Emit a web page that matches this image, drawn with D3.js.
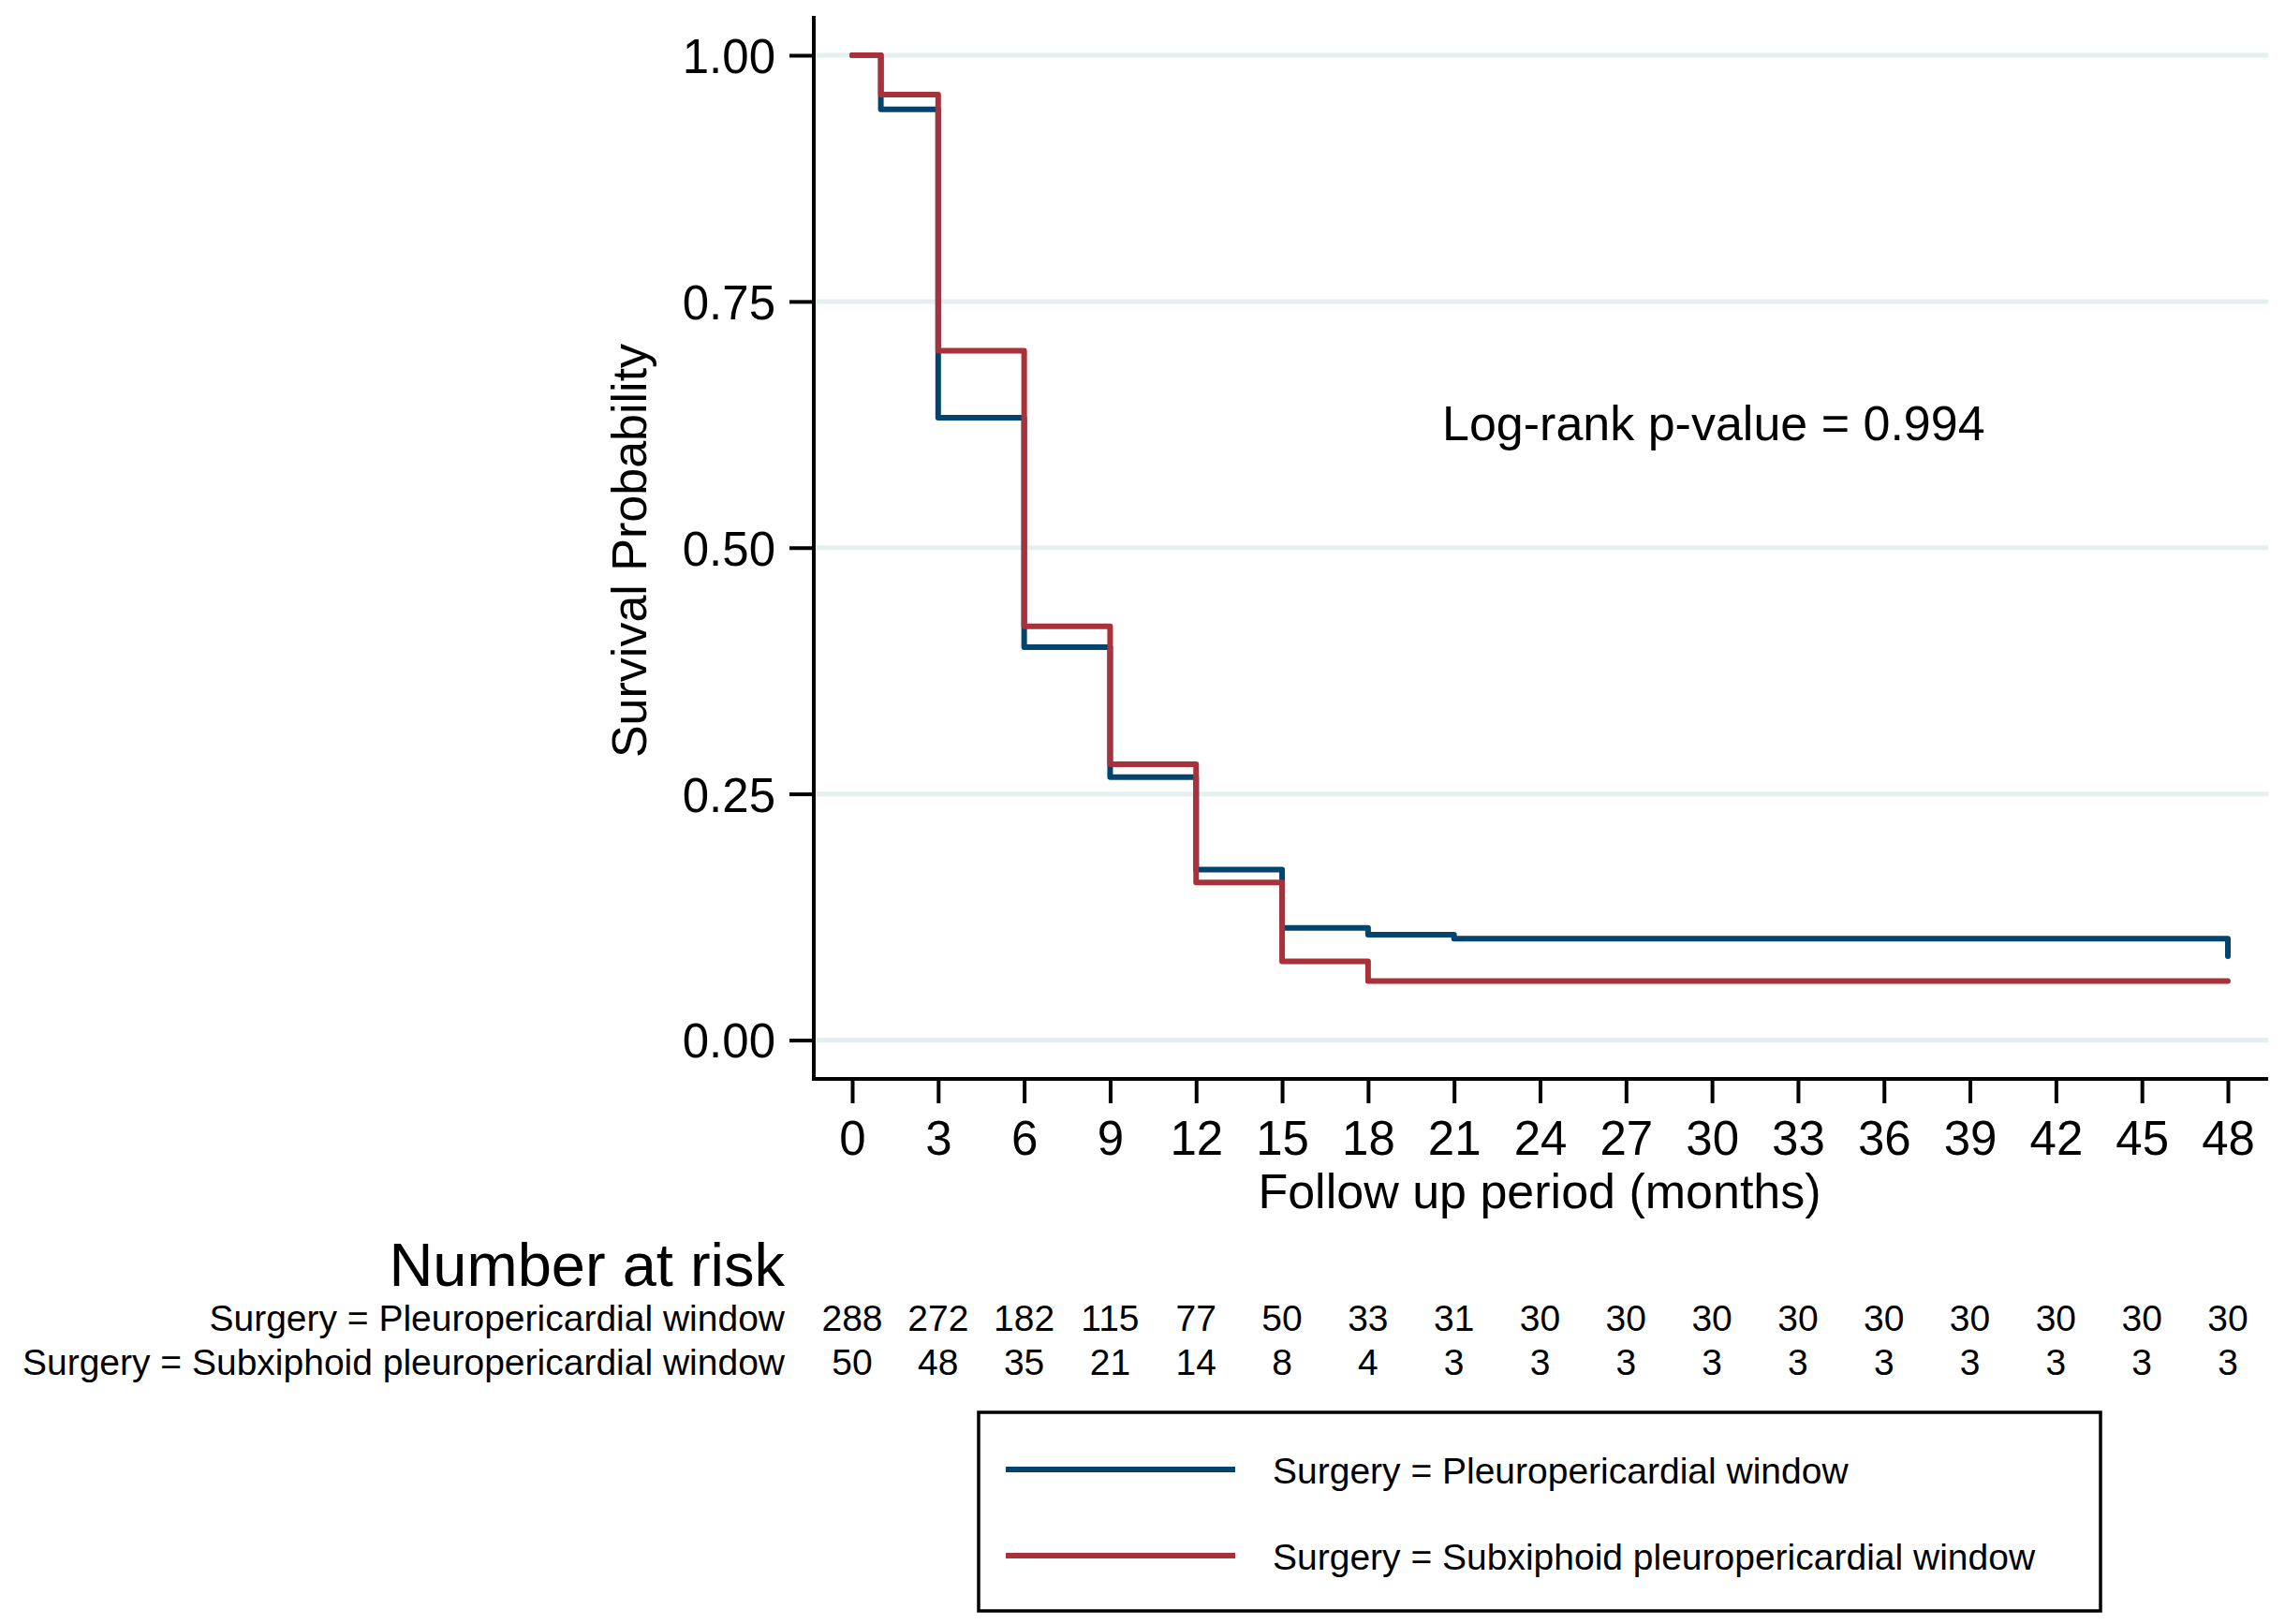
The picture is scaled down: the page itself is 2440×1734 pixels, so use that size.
<!DOCTYPE html>
<html>
<head>
<meta charset="utf-8">
<script src="https://cdn.jsdelivr.net/npm/d3@7"></script>
<style>
  body { margin: 0; background: #fff; }
  text { font-family: "Liberation Sans", Arial, Helvetica, sans-serif; fill: #000; }
</style>
</head>
<body>
<div id="chart"></div>
<script>
// Tick positions (months) and y ticks
const monthTicks = [0, 3, 6, 9, 12, 15, 18, 21, 24, 27, 30, 33, 36, 39, 42, 45, 48];
const survTicks = [0, 0.25, 0.5, 0.75, 1];

// Kaplan-Meier steps
const pleuroTimes = [0, 1, 3, 6, 9, 12, 15, 18, 21, 48, 48];
const pleuroSurv = [1, 0.945, 0.632, 0.399, 0.267, 0.173, 0.114, 0.107, 0.103, 0.103, 0.085];
const subxTimes = [0, 1, 3, 6, 9, 12, 15, 18, 48];
const subxSurv = [1, 0.96, 0.70, 0.42, 0.28, 0.16, 0.08, 0.06, 0.06];

// Number at risk
const pleuroRisk = [288, 272, 182, 115, 77, 50, 33, 31, 30, 30, 30, 30, 30, 30, 30, 30, 30];
const subxRisk = [50, 48, 35, 21, 14, 8, 4, 3, 3, 3, 3, 3, 3, 3, 3, 3, 3];

const seriesNames = ["Surgery = Pleuropericardial window", "Surgery = Subxiphoid pleuropericardial window"];
const seriesColors = ["#03446e", "#a8313a"];

const W = 2440, H = 1734;
const axisX = 869, axisY = 1152, axisTop = 17, plotRight = 2422;

const svg = d3.select("#chart")
  .append("svg")
  .attr("width", W)
  .attr("height", H);

const x = d3.scaleLinear().domain([0, 48]).range([910, 2379]);
const y = d3.scaleLinear().domain([0, 1]).range([1110.5, 59]);

// gridlines
svg.append("g")
  .selectAll("line")
  .data(survTicks)
  .enter()
  .append("line")
  .attr("x1", axisX + 3)
  .attr("x2", plotRight)
  .attr("y1", d => y(d))
  .attr("y2", d => y(d))
  .attr("stroke", "#e5efef")
  .attr("stroke-width", 5);

// y axis
const yAxis = svg.append("g")
  .attr("transform", `translate(${axisX},0)`)
  .call(d3.axisLeft(y).tickValues(survTicks).tickFormat(d3.format(".2f")).tickSize(26).tickPadding(15));
yAxis.select(".domain").remove();
yAxis.selectAll(".tick line").attr("stroke", "#000").attr("stroke-width", 4);
yAxis.selectAll(".tick text")
  .style("font-size", "51px")
  .attr("dy", "0.36em");

svg.append("line")
  .attr("x1", axisX).attr("x2", axisX)
  .attr("y1", axisTop).attr("y2", axisY + 2)
  .attr("stroke", "#000").attr("stroke-width", 4);

// x axis
const xAxis = svg.append("g")
  .attr("transform", `translate(0,${axisY})`)
  .call(d3.axisBottom(x).tickValues(monthTicks).tickFormat(d3.format("d")).tickSize(26).tickPadding(18));
xAxis.select(".domain").remove();
xAxis.selectAll(".tick line").attr("stroke", "#000").attr("stroke-width", 4);
xAxis.selectAll(".tick text")
  .style("font-size", "51px")
  .attr("dy", "0.72em");

svg.append("line")
  .attr("x1", axisX - 2).attr("x2", plotRight)
  .attr("y1", axisY).attr("y2", axisY)
  .attr("stroke", "#000").attr("stroke-width", 4);

// axis titles
svg.append("text")
  .attr("x", 1644)
  .attr("y", 1290)
  .attr("text-anchor", "middle")
  .style("font-size", "52px")
  .text("Follow up period (months)");

svg.append("text")
  .attr("transform", "translate(690,588) rotate(-90)")
  .attr("text-anchor", "middle")
  .style("font-size", "52px")
  .text("Survival Probability");

// p-value note
svg.append("text")
  .attr("x", 1540)
  .attr("y", 470)
  .style("font-size", "52px")
  .text("Log-rank p-value = 0.994");

// survival curves
const line = d3.line()
  .x(d => x(d[0]))
  .y(d => y(d[1]))
  .curve(d3.curveStepAfter);

const curves = [
  d3.zip(pleuroTimes, pleuroSurv),
  d3.zip(subxTimes, subxSurv)
];

svg.append("g")
  .selectAll("path")
  .data(curves)
  .enter()
  .append("path")
  .attr("d", line)
  .attr("fill", "none")
  .attr("stroke", (d, i) => seriesColors[i])
  .attr("stroke-width", 6)
  .attr("stroke-linejoin", "round")
  .attr("stroke-linecap", "round");

// number at risk table
svg.append("text")
  .attr("x", 838)
  .attr("y", 1373)
  .attr("text-anchor", "end")
  .style("font-size", "65px")
  .text("Number at risk");

const riskRows = [pleuroRisk, subxRisk];
const riskBase = [1421, 1468];

riskRows.forEach((row, i) => {
  svg.append("text")
    .attr("x", 838)
    .attr("y", riskBase[i])
    .attr("text-anchor", "end")
    .style("font-size", "39px")
    .text(seriesNames[i]);

  svg.append("g")
    .selectAll("text")
    .data(row)
    .enter()
    .append("text")
    .attr("x", (d, j) => x(monthTicks[j]))
    .attr("y", riskBase[i])
    .attr("text-anchor", "middle")
    .style("font-size", "39px")
    .text(d => d);
});

// legend
const legend = svg.append("g");
legend.append("rect")
  .attr("x", 1045)
  .attr("y", 1508)
  .attr("width", 1198)
  .attr("height", 212)
  .attr("fill", "#fff")
  .attr("stroke", "#000")
  .attr("stroke-width", 3.5);

const legY = [1569, 1661];
seriesNames.forEach((name, i) => {
  legend.append("line")
    .attr("x1", 1074).attr("x2", 1319)
    .attr("y1", legY[i]).attr("y2", legY[i])
    .attr("stroke", seriesColors[i])
    .attr("stroke-width", 6);
  legend.append("text")
    .attr("x", 1359)
    .attr("y", legY[i] + 15)
    .style("font-size", "39px")
    .text(name);
});
</script>
</body>
</html>
